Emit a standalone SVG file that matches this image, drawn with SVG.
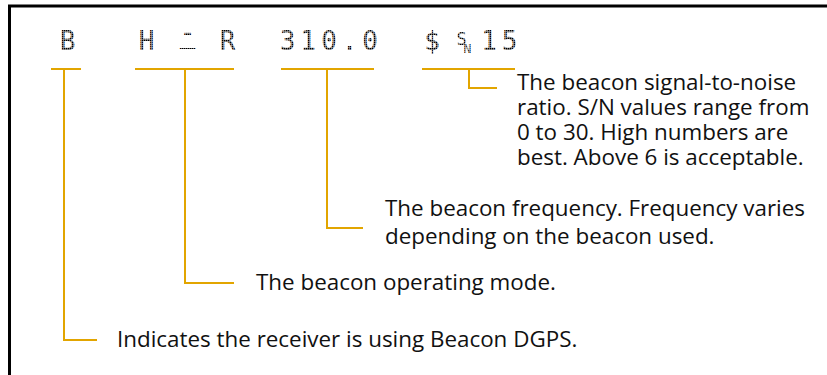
<svg xmlns="http://www.w3.org/2000/svg" width="827" height="375" viewBox="0 0 827 375">
  <defs>
    <pattern id="dots" patternUnits="userSpaceOnUse" width="2" height="2">
      <rect x="0" y="0" width="2" height="2" fill="#b8b8b8"/>
      <rect x="0" y="0" width="1.4" height="1.4" fill="#000"/>
    </pattern>
  </defs>
  <style>
    .lcd { font-family: "DejaVu Sans Mono", monospace; font-size: 26px; fill: url(#dots); text-anchor: middle; }
    .lbl { font-family: "Open Sans", "Noto Sans", sans-serif; font-size: 22.4px; fill: #111; }
    .ln { fill: none; stroke: #E2A500; stroke-width: 2; }
  </style>
  <rect width="827" height="375" fill="#fff"/>
  <path d="M9.5,375 V6 H827" fill="none" stroke="#000" stroke-width="3"/>

  <g id="display">
    <text class="lcd" x="67.5" y="49.5">B</text>
    <text class="lcd" x="146.5" y="49.5">H</text>
    <text class="lcd"><tspan x="187.5" y="41">-</tspan><tspan x="187.5" y="42.7">_</tspan></text>
    <text class="lcd" x="227.5" y="49.5">R</text>
    <text class="lcd" x="287.5 308 329 349.5 370" y="49.5">310.0</text>
    <text class="lcd" x="432" y="49.5">$</text>
    <text class="lcd" style="font-size:17px"><tspan x="461.5" y="45">S</tspan><tspan x="467.5" y="52.5" style="font-size:13px">N</tspan></text>
    <text class="lcd" x="489 509.5" y="49.5">15</text>
  </g>

  <g id="connectors">
    <path class="ln" d="M51,69 H81 M64,69 V340 H97"/>
    <path class="ln" d="M135,69 H234 M185,69 V283 H234"/>
    <path class="ln" d="M281,69 H374 M327,69 V228 H363"/>
    <path class="ln" d="M422,69 H515 M469,69 V88 H497"/>
  </g>

  <g id="label-dgps">
    <text class="lbl" x="117" y="347">Indicates the receiver is using Beacon DGPS.</text>
  </g>
  <g id="label-mode">
    <text class="lbl" x="256" y="290">The beacon operating mode.</text>
  </g>
  <g id="label-freq">
    <text class="lbl" x="385" y="216">The beacon frequency. Frequency varies</text>
    <text class="lbl" x="385" y="244">depending on the beacon used.</text>
  </g>
  <g id="label-snr">
    <text class="lbl" x="517" y="90">The beacon signal-to-noise</text>
    <text class="lbl" x="517" y="115">ratio. S/N values range from</text>
    <text class="lbl" x="517" y="140">0 to 30. High numbers are</text>
    <text class="lbl" x="517" y="165">best. Above 6 is acceptable.</text>
  </g>
</svg>
